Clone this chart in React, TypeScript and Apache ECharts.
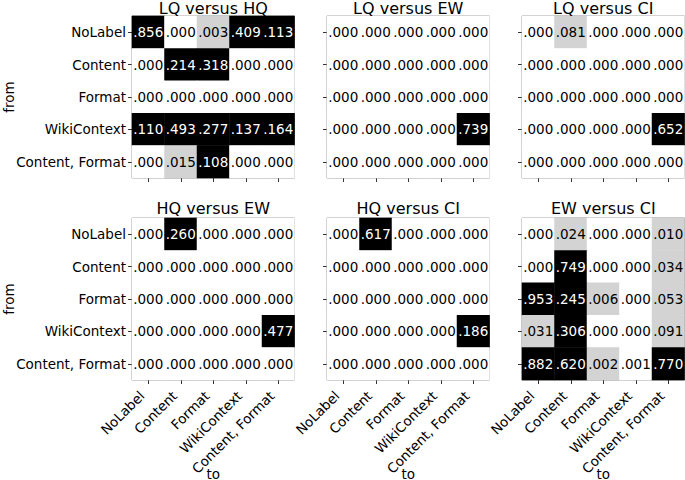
import React, { useEffect, useRef } from "react";
import * as echarts from "echarts";

const categories = ["NoLabel", "Content", "Format", "WikiContext", "Content, Format"];

const titles = ["LQ versus HQ", "LQ versus EW", "LQ versus CI", "HQ versus EW", "HQ versus CI", "EW versus CI"];

const lqHq = [
  [0.856, 0.0, 0.003, 0.409, 0.113],
  [0.0, 0.214, 0.318, 0.0, 0.0],
  [0.0, 0.0, 0.0, 0.0, 0.0],
  [0.11, 0.493, 0.277, 0.137, 0.164],
  [0.0, 0.015, 0.108, 0.0, 0.0],
];
const lqEw = [
  [0.0, 0.0, 0.0, 0.0, 0.0],
  [0.0, 0.0, 0.0, 0.0, 0.0],
  [0.0, 0.0, 0.0, 0.0, 0.0],
  [0.0, 0.0, 0.0, 0.0, 0.739],
  [0.0, 0.0, 0.0, 0.0, 0.0],
];
const lqCi = [
  [0.0, 0.081, 0.0, 0.0, 0.0],
  [0.0, 0.0, 0.0, 0.0, 0.0],
  [0.0, 0.0, 0.0, 0.0, 0.0],
  [0.0, 0.0, 0.0, 0.0, 0.652],
  [0.0, 0.0, 0.0, 0.0, 0.0],
];
const hqEw = [
  [0.0, 0.26, 0.0, 0.0, 0.0],
  [0.0, 0.0, 0.0, 0.0, 0.0],
  [0.0, 0.0, 0.0, 0.0, 0.0],
  [0.0, 0.0, 0.0, 0.0, 0.477],
  [0.0, 0.0, 0.0, 0.0, 0.0],
];
const hqCi = [
  [0.0, 0.617, 0.0, 0.0, 0.0],
  [0.0, 0.0, 0.0, 0.0, 0.0],
  [0.0, 0.0, 0.0, 0.0, 0.0],
  [0.0, 0.0, 0.0, 0.0, 0.186],
  [0.0, 0.0, 0.0, 0.0, 0.0],
];
const ewCi = [
  [0.0, 0.024, 0.0, 0.0, 0.01],
  [0.0, 0.749, 0.0, 0.0, 0.034],
  [0.953, 0.245, 0.006, 0.0, 0.053],
  [0.031, 0.306, 0.0, 0.0, 0.091],
  [0.882, 0.62, 0.002, 0.001, 0.77],
];

const matrices = [lqHq, lqEw, lqCi, hqEw, hqCi, ewCi];

const FONT = "DejaVu Sans";

export default function App() {
  const ref = useRef<HTMLDivElement>(null);
  useEffect(() => {
    if (!ref.current) return;
    const chart = echarts.init(ref.current, null, { renderer: "svg" });
    const lefts = [132, 327, 522];
    const tops = [16, 218];
    const W = 162.5;
    const H = 162;
    const grids: any[] = [];
    const xAxes: any[] = [];
    const yAxes: any[] = [];
    const series: any[] = [];
    const titleOpts: any[] = [];
    matrices.forEach((m, i) => {
      const col = i % 3;
      const row = Math.floor(i / 3);
      grids.push({
        left: lefts[col],
        top: tops[row],
        width: W,
        height: H,
        show: true,
        borderColor: "#888",
        borderWidth: 1,
        backgroundColor: "#fff",
        containLabel: false,
        outerBoundsMode: "none",
      });
      xAxes.push({
        type: "category",
        gridIndex: i,
        data: categories,
        axisLine: { show: false },
        axisTick: { show: true, alignWithLabel: true, length: 4, lineStyle: { color: "#333" } },
        axisLabel: {
          show: row === 1,
          rotate: 45,
          margin: 7,
          interval: 0,
          padding: [0, 9, 0, 0],
          fontFamily: FONT,
          fontSize: 13.5,
          color: "#000",
        },
        splitLine: { show: false },
        name: row === 1 ? "to" : "",
        nameLocation: "middle",
        nameGap: 87,
        nameMoveOverlap: false,
        nameTextStyle: { fontFamily: FONT, fontSize: 13.5, color: "#000" },
      });
      yAxes.push({
        type: "category",
        gridIndex: i,
        data: categories,
        inverse: true,
        axisLine: { show: false },
        axisTick: { show: true, alignWithLabel: true, length: 4, lineStyle: { color: "#333" } },
        axisLabel: {
          show: col === 0,
          margin: 6,
          interval: 0,
          fontFamily: FONT,
          fontSize: 13.5,
          color: "#000",
        },
        splitLine: { show: false },
        name: col === 0 ? "from" : "",
        nameLocation: "middle",
        nameGap: 116,
        nameRotate: 90,
        nameMoveOverlap: false,
        nameTextStyle: { fontFamily: FONT, fontSize: 13.5, color: "#000" },
      });
      const data: any[] = [];
      m.forEach((r, yi) =>
        r.forEach((v, xi) => {
          data.push({
            value: [xi, yi, v],
            label: { color: v >= 0.1 ? "#ffffff" : "#000000" },
          });
        })
      );
      series.push({
        type: "heatmap",
        xAxisIndex: i,
        yAxisIndex: i,
        data,
        label: {
          show: true,
          fontFamily: FONT,
          fontSize: 13.5,
          formatter: (p: any) => Number(p.value[2]).toFixed(3).replace(/^0/, ""),
        },
        emphasis: { disabled: true },
      });
      titleOpts.push({
        text: titles[i],
        left: lefts[col] + W / 2,
        top: row === 0 ? 0 : 200,
        textAlign: "center",
        padding: 0,
        textStyle: { fontFamily: FONT, fontSize: 16, fontWeight: "normal", color: "#000" },
      });
    });
    chart.setOption({
      animation: false,
      backgroundColor: "#fff",
      title: titleOpts,
      visualMap: {
        type: "piecewise",
        show: false,
        dimension: 2,
        seriesIndex: [0, 1, 2, 3, 4, 5],
        pieces: [
          { gte: 0.1, color: "#000000" },
          { gt: 0.0015, lt: 0.1, color: "#d3d3d3" },
          { lte: 0.0015, color: "#ffffff" },
        ],
      },
      grid: grids,
      xAxis: xAxes,
      yAxis: yAxes,
      series,
    });
    return () => chart.dispose();
  }, []);
  return (
    <div
      ref={ref}
      style={{ position: "fixed", left: 0, top: 0, width: 685, height: 480 }}
    />
  );
}
